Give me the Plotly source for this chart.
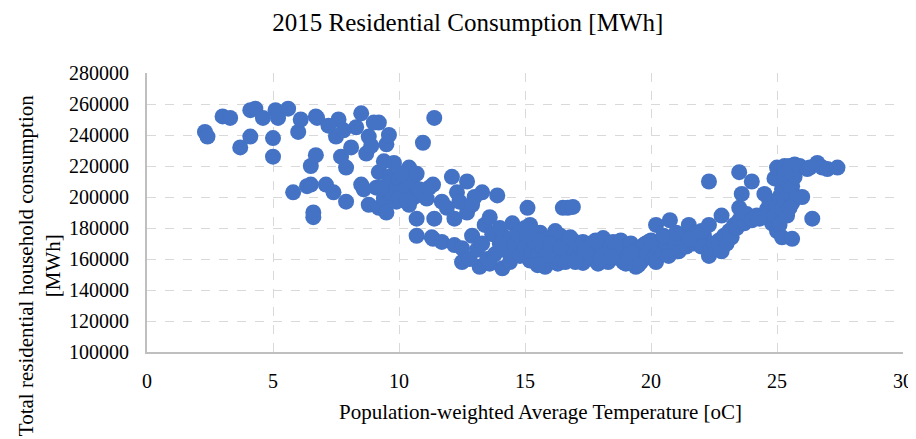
import plotly.graph_objects as go

# population-weighted average temperature [oC] and daily consumption [MWh]
temperature = [
    2.3, 2.4, 3.0, 3.3, 3.7, 4.1, 4.1, 4.3, 4.6, 5.0, 5.0, 5.1, 5.2, 5.6, 5.8, 6.0, 6.1, 6.35, 6.5, 6.5,
    6.6, 6.6, 6.7, 6.7, 6.75,
    7.1, 7.4, 7.5, 7.6, 7.7, 7.9, 7.9, 8.1, 8.3, 8.5, 8.5, 8.7, 8.8, 8.8, 9.1, 9.2, 9.2, 9.2, 9.4, 9.4,
    9.5, 9.5, 9.6, 9.6, 9.6, 9.8, 9.9, 7.2, 7.8, 8.6, 9.0, 9.3, 9.7, 9.9, 10.0, 10.0, 8.9,
    10.2, 10.3, 10.4, 10.4, 10.5, 10.6, 10.7, 10.7, 10.7, 10.95, 11.0, 11.2, 11.3, 11.35, 11.35, 11.4, 11.4,
    11.7, 11.7, 11.9, 12.1, 12.2, 12.2, 10.1, 10.3, 10.8, 11.1,
    12.3, 12.5, 12.5, 12.7, 12.7, 12.9, 13.2, 13.3, 13.4, 13.6, 13.9, 14.1, 14.5, 13.0, 13.1, 13.3, 13.5,
    13.7, 13.8, 14.0, 14.2, 14.3, 14.4, 14.6, 14.7, 14.8, 14.9, 12.8, 13.6, 14.0, 12.4, 12.9,
    15.1, 15.2, 15.2, 15.8, 15.0, 15.1, 15.3, 15.4, 15.5, 15.6, 15.7, 15.9, 16.0, 16.1, 16.2, 16.3, 16.4,
    16.5, 16.5, 16.6, 16.7, 16.8, 16.9, 16.9, 17.0, 15.3, 15.5, 15.9, 16.2, 16.6, 15.0, 15.6, 16.0, 16.4, 16.8,
    17.1, 17.2, 17.3, 17.3, 17.5, 17.6, 17.7, 17.8, 17.9, 18.0, 18.1, 18.2, 18.3, 18.4, 18.5, 18.6, 18.7,
    18.8, 18.9, 19.0, 19.1, 19.2, 19.3, 19.4, 19.5, 19.6, 19.7, 19.8, 19.9, 20.0, 17.4, 18.0, 18.6, 19.2,
    19.5, 17.0, 17.8, 18.4, 19.0, 19.8,
    20.1, 20.2, 20.2, 20.3, 20.4, 20.5, 20.6, 20.75, 20.8, 20.9, 21.0, 21.1, 21.2, 21.3, 21.4, 21.5, 21.6,
    21.7, 21.8, 21.9, 22.0, 22.1, 22.2, 22.3, 22.3, 22.3, 22.4, 22.5, 20.0, 20.5, 21.0, 21.5, 20.7, 22.0,
    22.6, 22.7, 22.8, 22.8, 22.9, 23.0, 23.1, 23.2, 23.3, 23.4, 23.5, 23.5, 23.5, 23.6, 23.7, 23.8, 24.0,
    24.0, 24.2, 24.4, 24.5, 24.6, 24.7, 24.8, 24.9, 24.9, 25.0, 24.3,
    25.0, 25.0, 25.1, 25.1, 25.2, 25.2, 25.2, 25.3, 25.3, 25.4, 25.4, 25.5, 25.5, 25.6, 25.6, 25.6, 25.7,
    25.7, 25.8, 25.9, 26.0, 26.2, 26.3, 26.4, 26.6, 26.8, 27.0, 27.4, 25.3, 25.5,
]
consumption = [
    242000, 239000, 252000, 251000, 232000, 256000, 239000, 257000, 251000, 238000, 226000, 256000, 251000,
    257000, 203000, 242000, 250000, 207000, 220000, 208000, 190000, 187000, 227000, 252000, 251000,
    208000, 203000, 239000, 250000, 226000, 219000, 197000, 232000, 245000, 254000, 208000, 228000, 239000,
    195000, 206000, 248000, 216000, 193000, 223000, 199000, 234000, 190000, 240000, 213000, 203000, 222000,
    197000, 246000, 243000, 205000, 248000, 206000, 210000, 205000, 212000, 200000, 233000,
    201000, 206000, 219000, 195000, 210000, 200000, 215000, 186000, 175000, 235000, 202000, 206000, 174000,
    208000, 173000, 251000, 186000, 197000, 171000, 193000, 213000, 186000, 169000, 215000, 198000, 205000,
    199000,
    203000, 167000, 158000, 210000, 190000, 175000, 155000, 203000, 182000, 187000, 201000, 154000, 183000,
    200000, 166000, 170000, 160000, 176000, 163000, 170000, 174000, 165000, 158000, 169000, 176000, 162000,
    172000, 160000, 157000, 180000, 197000, 195000,
    193000, 182000, 159000, 155000, 168000, 175000, 165000, 171000, 162000, 177000, 168000, 173000, 160000,
    166000, 171000, 157000, 175000, 193000, 163000, 169000, 193000, 160000, 193600, 172000, 166000, 178000,
    156000, 163000, 178000, 158000, 180000, 172000, 170000, 167000, 174000,
    161000, 168000, 171000, 157500, 164000, 170000, 160000, 166000, 157000, 169000, 173500, 163000, 158000,
    167000, 171000, 161000, 165000, 172000, 158000, 168000, 163000, 170000, 160000, 155000, 166000, 158000,
    169000, 163000, 171000, 167000, 165000, 160000, 168000, 164000, 156000, 158000, 172000, 161000, 157000,
    170000,
    160000, 182000, 158000, 168000, 172000, 164000, 170000, 185000, 167000, 173000, 170000, 165000, 175000,
    171000, 168000, 182000, 174000, 170000, 177000, 172000, 168000, 175000, 171000, 210000, 182000, 162000,
    166000, 170000, 172000, 175000, 177000, 173000, 162000, 178000,
    167000, 172000, 188000, 165000, 175000, 170000, 178000, 174000, 182000, 180000, 216000, 193000, 185000,
    202000, 183000, 189000, 210000, 185000, 188000, 187000, 202000, 192000, 197000, 183000, 212000, 188000,
    178000, 186000,
    219000, 195000, 200000, 182000, 205000, 174000, 192000, 220000, 198000, 210000, 188000, 220000, 202000,
    207000, 196000, 173000, 221000, 213000, 200000, 220000, 200000, 218000, 219000, 186000, 222000, 219000,
    218000, 219000, 215000, 193000,
]

x_ticks = [0, 5, 10, 15, 20, 25, 30]
y_ticks = [100000, 120000, 140000, 160000, 180000, 200000, 220000, 240000, 260000, 280000]

serif = "Liberation Serif, Times New Roman, serif"

fig = go.Figure(
    go.Scatter(
        x=temperature,
        y=consumption,
        mode="markers",
        marker=dict(size=16, color="#4472C4", line=dict(width=0)),
        hoverinfo="x+y",
    )
)

# the page body adds an 8px offset, so margins are shifted by that amount
fig.update_layout(
    width=916,
    height=439,
    margin=dict(l=139, r=21, t=65, b=95),
    plot_bgcolor="white",
    paper_bgcolor="white",
    showlegend=False,
    font=dict(family=serif, size=20, color="#000000"),
    title=dict(
        text="2015 Residential Consumption [MWh]",
        x=0.502,
        xanchor="center",
        y=0.968,
        yanchor="middle",
        font=dict(family=serif, size=25, color="#000000"),
    ),
)

fig.update_xaxes(
    range=[0, 30],
    tickvals=x_ticks,
    showgrid=True,
    gridcolor="#D9D9D9",
    griddash="dash",
    zeroline=False,
    showline=True,
    linecolor="#BFBFBF",
    linewidth=1.5,
    ticklabelstandoff=10,
    automargin=False,
)
fig.update_yaxes(
    range=[100000, 280000],
    tickvals=y_ticks,
    tickformat="d",
    showgrid=True,
    gridcolor="#D9D9D9",
    griddash="dash",
    zeroline=False,
    showline=True,
    linecolor="#BFBFBF",
    linewidth=2,
    ticklabelstandoff=12,
    automargin=False,
)

fig.add_annotation(
    text="Population-weighted Average Temperature [oC]",
    xref="paper", yref="paper",
    x=0.52, y=-0.215,
    xanchor="center", yanchor="middle",
    showarrow=False,
    font=dict(family=serif, size=21, color="#000000"),
)
fig.add_annotation(
    text="Total residential household consumption<br>[MWh]",
    xref="paper", yref="paper",
    x=-0.142, y=0.31,
    xanchor="center", yanchor="middle",
    textangle=-90,
    showarrow=False,
    font=dict(family=serif, size=21, color="#000000"),
)

fig.write_html("out.html")
